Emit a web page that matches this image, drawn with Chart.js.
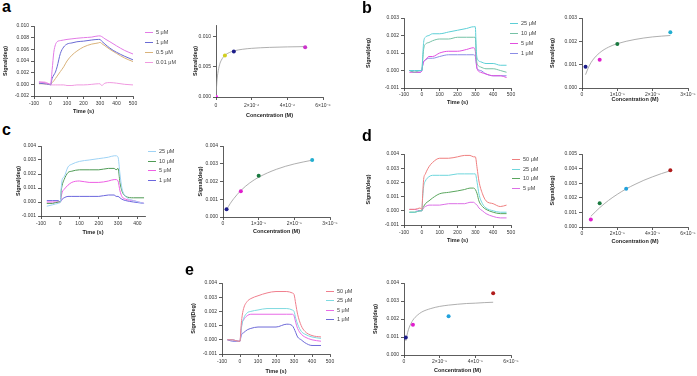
<!DOCTYPE html>
<html>
<head>
<meta charset="utf-8">
<script src="https://cdn.jsdelivr.net/npm/chart.js@4.4.1/dist/chart.umd.min.js"></script>
<style>
html, body { margin: 0; padding: 0; background: #fff; }
#fig { position: relative; width: 697px; height: 376px; overflow: hidden; font-family: Arial, "Liberation Sans", sans-serif; }
#fig canvas { position: absolute; }
.tag { position: absolute; font-weight: bold; font-size: 16px; line-height: 16px; color: #000; }
.leg { position: absolute; font-size: 5.5px; line-height: 6px; color: #444; white-space: nowrap; }
.leg i { display: inline-block; width: 8px; height: 1px; vertical-align: middle; margin-right: 3px; }
</style>
</head>
<body>
<div id="fig"></div>
<script>
// ---- panel a ----
const timeA = [-70, -40, -10, 0, 10, 20, 30, 40, 60, 80, 100, 130, 160, 200, 250, 290, 300, 310, 330, 360, 400, 450, 500];
const a5uM = [0.0004, 0.0003, 0.0001, 0.0000, 0.0025, 0.0055, 0.0068, 0.0073, 0.0075, 0.0076, 0.0077, 0.0078, 0.0079, 0.0080, 0.0081, 0.0083, 0.0083, 0.0082, 0.0078, 0.0073, 0.0066, 0.0058, 0.0052];
const a1uM = [0.0002, 0.0001, 0.0000, -0.0001, 0.0010, 0.0016, 0.0021, 0.0030, 0.0053, 0.0064, 0.0069, 0.0071, 0.0073, 0.0074, 0.0076, 0.0077, 0.0077, 0.0074, 0.0069, 0.0062, 0.0055, 0.0048, 0.0042];
const a05uM = [0.0001, 0.0001, 0.0000, 0.0000, 0.0003, 0.0006, 0.0010, 0.0014, 0.0022, 0.0030, 0.0040, 0.0050, 0.0057, 0.0064, 0.0069, 0.0071, 0.0072, 0.0070, 0.0066, 0.0060, 0.0053, 0.0045, 0.0039];
const a001uM = [0.0004, 0.0004, 0.0001, -0.0001, -0.0001, -0.0001, -0.0001, -0.0001, -0.0001, -0.0001, -0.0002, -0.0002, -0.0001, -0.0001, 0.0000, 0.0001, 0.0001, -0.0002, 0.0002, 0.0003, 0.0002, 0.0000, -0.0001];
const concA = [1e-8, 5e-7, 1e-6, 5e-6];
const sigA = [0.0000, 0.0069, 0.0076, 0.0083];
const fitConcA = [0, 5e-8, 1e-7, 2e-7, 3e-7, 5e-7, 7.5e-7, 1e-6, 1.5e-6, 2e-6, 3e-6, 4e-6, 5e-6];
const fitSigA = [0, 0.00253, 0.00391, 0.00538, 0.00614, 0.00694, 0.00741, 0.00768, 0.00796, 0.00811, 0.00827, 0.00835, 0.00840];

// ---- panel b ----
const timeB = [-70, -40, -10, 0, 5, 10, 20, 40, 60, 100, 150, 200, 250, 290, 300, 305, 310, 330, 360, 400, 440, 475];
const b25uM = [0.0000, 0.0000, 0.0000, 0.0000, 0.0008, 0.0016, 0.0019, 0.0020, 0.0021, 0.0021, 0.0022, 0.0023, 0.0024, 0.0025, 0.0025, 0.0012, 0.0007, 0.0005, 0.0004, 0.0004, 0.0003, 0.0003];
const b10uM = [0.0000, -0.0001, 0.0000, 0.0000, 0.0006, 0.0012, 0.0015, 0.0016, 0.0017, 0.0018, 0.0018, 0.0019, 0.0019, 0.0019, 0.0019, 0.0008, 0.0004, 0.0002, 0.0001, 0.0001, 0.0000, -0.0001];
const b5uM = [-0.0001, -0.0001, -0.0001, 0.0000, 0.0003, 0.0005, 0.0006, 0.0008, 0.0008, 0.0010, 0.0011, 0.0011, 0.0012, 0.0013, 0.0011, 0.0005, 0.0001, -0.0001, -0.0002, -0.0003, -0.0003, -0.0004];
const b1uM = [0.0000, -0.0001, -0.0001, 0.0000, 0.0003, 0.0005, 0.0006, 0.0007, 0.0007, 0.0008, 0.0009, 0.0009, 0.0009, 0.0009, 0.0008, 0.0004, 0.0001, 0.0000, -0.0002, -0.0003, -0.0003, -0.0003];
const concB = [1e-6, 5e-6, 1e-5, 2.5e-5];
const sigB = [0.00091, 0.00121, 0.00189, 0.00239];
const fitConcB = [1e-6, 2e-6, 3e-6, 5e-6, 7.5e-6, 1e-5, 1.5e-5, 2e-5, 2.5e-5];
const fitSigB = [0.00057, 0.00094, 0.00119, 0.00151, 0.00175, 0.00190, 0.00208, 0.00219, 0.00225];

// ---- panel c ----
const timeC = [-70, -40, -10, 0, 5, 10, 20, 40, 60, 100, 150, 200, 250, 280, 290, 300, 310, 320, 340, 380, 435];
const c25uM = [-0.0003, -0.0002, -0.0001, 0.0000, 0.0010, 0.0016, 0.0018, 0.0025, 0.0027, 0.0029, 0.0030, 0.0031, 0.0032, 0.0033, 0.0033, 0.0032, 0.0020, 0.0010, 0.0004, 0.0001, -0.0001];
const c10uM = [-0.0001, -0.0001, 0.0000, 0.0000, 0.0008, 0.0012, 0.0016, 0.0021, 0.0022, 0.0023, 0.0023, 0.0023, 0.0024, 0.0024, 0.0023, 0.0024, 0.0014, 0.0008, 0.0004, 0.0003, 0.0003];
const c5uM = [0.0000, 0.0000, 0.0000, 0.0000, 0.0004, 0.0007, 0.0009, 0.0012, 0.0014, 0.0015, 0.0014, 0.0014, 0.0015, 0.0016, 0.0016, 0.0015, 0.0008, 0.0004, 0.0002, 0.0001, -0.0001];
const c1uM = [0.0001, 0.0001, 0.0001, 0.0000, 0.0001, 0.0002, 0.0003, 0.0004, 0.0004, 0.0004, 0.0004, 0.0004, 0.0005, 0.0005, 0.0004, 0.0004, 0.0003, 0.0002, 0.0001, 0.0000, -0.0001];
const concC = [1e-6, 5e-6, 1e-5, 2.5e-5];
const sigC = [0.00043, 0.00145, 0.00232, 0.00321];
const fitConcC = [1e-6, 2e-6, 3e-6, 5e-6, 7.5e-6, 1e-5, 1.5e-5, 2e-5, 2.5e-5];
const fitSigC = [0.00041, 0.00075, 0.00103, 0.00149, 0.00192, 0.00224, 0.00269, 0.00299, 0.00320];

// ---- panel d ----
const timeD = [-70, -40, -10, 0, 5, 10, 20, 40, 60, 100, 150, 200, 240, 270, 290, 300, 310, 320, 340, 360, 400, 440, 475];
const d50uM = [0.0001, 0.0001, 0.0002, 0.0001, 0.0012, 0.0022, 0.0026, 0.0031, 0.0034, 0.0037, 0.0037, 0.0038, 0.0039, 0.0039, 0.0038, 0.0038, 0.0030, 0.0021, 0.0012, 0.0007, 0.0005, 0.0003, 0.0004];
const d25uM = [-0.0001, -0.0001, 0.0000, 0.0000, 0.0010, 0.0017, 0.0021, 0.0024, 0.0025, 0.0025, 0.0025, 0.0026, 0.0026, 0.0026, 0.0026, 0.0026, 0.0020, 0.0012, 0.0005, 0.0002, 0.0000, -0.0001, -0.0001];
const d10uM = [-0.0001, -0.0001, 0.0000, 0.0000, 0.0002, 0.0003, 0.0005, 0.0007, 0.0009, 0.0012, 0.0013, 0.0014, 0.0015, 0.0016, 0.0016, 0.0015, 0.0012, 0.0007, 0.0003, 0.0001, -0.0001, -0.0002, -0.0002];
const d5uM = [0.0001, 0.0001, 0.0000, 0.0000, 0.0001, 0.0002, 0.0003, 0.0004, 0.0004, 0.0004, 0.0005, 0.0005, 0.0005, 0.0006, 0.0006, 0.0005, 0.0004, 0.0002, 0.0000, -0.0002, -0.0004, -0.0005, -0.0005];
const concD = [5e-6, 1e-5, 2.5e-5, 5e-5];
const sigD = [0.00052, 0.00162, 0.00262, 0.00389];
const fitConcD = [5e-6, 1e-5, 1.5e-5, 2e-5, 2.5e-5, 3e-5, 3.5e-5, 4e-5, 4.5e-5, 5e-5];
const fitSigD = [0.00073, 0.00132, 0.00182, 0.00224, 0.00261, 0.00292, 0.00320, 0.00344, 0.00366, 0.00385];

// ---- panel e ----
const timeE = [-70, -40, -10, 0, 5, 10, 20, 40, 60, 100, 150, 200, 260, 290, 300, 310, 320, 340, 360, 400, 450];
const e50uM = [0.0000, 0.0000, -0.0001, -0.0001, 0.0008, 0.0015, 0.0022, 0.0027, 0.0029, 0.0031, 0.0033, 0.0034, 0.0034, 0.0033, 0.0032, 0.0025, 0.0018, 0.0010, 0.0006, 0.0003, 0.0002];
const e25uM = [0.0000, 0.0000, -0.0001, -0.0001, 0.0005, 0.0010, 0.0015, 0.0019, 0.0020, 0.0021, 0.0022, 0.0022, 0.0022, 0.0021, 0.0020, 0.0015, 0.0011, 0.0006, 0.0004, 0.0002, 0.0001];
const e5uM = [0.0000, 0.0000, -0.0001, -0.0001, 0.0005, 0.0011, 0.0014, 0.0017, 0.0018, 0.0018, 0.0018, 0.0018, 0.0018, 0.0018, 0.0017, 0.0012, 0.0008, 0.0004, 0.0002, 0.0000, -0.0001];
const e1uM = [0.0000, -0.0001, -0.0001, -0.0001, 0.0002, 0.0004, 0.0005, 0.0007, 0.0008, 0.0009, 0.0009, 0.0009, 0.0011, 0.0010, 0.0008, 0.0005, 0.0002, 0.0000, -0.0002, -0.0004, -0.0004];
const concE = [1e-6, 5e-6, 2.5e-5, 5e-5];
const sigE = [0.00097, 0.00168, 0.00215, 0.00343];
const fitConcE = [1e-6, 2e-6, 3e-6, 5e-6, 7.5e-6, 1e-5, 1.5e-5, 2e-5, 2.5e-5, 3e-5, 3.5e-5, 4e-5, 4.5e-5, 5e-5];
const fitSigE = [0.00078, 0.00124, 0.00155, 0.00194, 0.00221, 0.00239, 0.00258, 0.00270, 0.00277, 0.00282, 0.00286, 0.00288, 0.00291, 0.00293];

// ---- tick labels ----
const timeTicks = [-100, 0, 100, 200, 300, 400, 500];
const timeTicksC = [-100, 0, 100, 200, 300, 400];
const yTicksA = [-0.002, 0, 0.002, 0.004, 0.006, 0.008, 0.010];
const yLabelsA = ["-0.002", "0.000", "0.002", "0.004", "0.006", "0.008", "0.010"];
const yTicksA2 = [0, 0.005, 0.010];
const yLabelsA2 = ["0.000", "0.005", "0.010"];
const yTicks3 = [-0.001, 0, 0.001, 0.002, 0.003];
const yLabels3 = ["-0.001", "0.000", "0.001", "0.002", "0.003"];
const yTicks3R = [0, 0.001, 0.002, 0.003];
const yLabels3R = ["0.000", "0.001", "0.002", "0.003"];
const yTicks4 = [-0.001, 0, 0.001, 0.002, 0.003, 0.004];
const yLabels4 = ["-0.001", "0.000", "0.001", "0.002", "0.003", "0.004"];
const yTicks4R = [0, 0.001, 0.002, 0.003, 0.004];
const yLabels4R = ["0.000", "0.001", "0.002", "0.003", "0.004"];
const yTicks5R = [0, 0.001, 0.002, 0.003, 0.004, 0.005];
const yLabels5R = ["0.000", "0.001", "0.002", "0.003", "0.004", "0.005"];
const xTicksE6 = [0, 2e-6, 4e-6, 6e-6];
const xLabelsE6 = ["0", "2×10⁻⁶", "4×10⁻⁶", "6×10⁻⁶"];
const xTicks3E5 = [0, 1e-5, 2e-5, 3e-5];
const xLabels3E5 = ["0", "1×10⁻⁵", "2×10⁻⁵", "3×10⁻⁵"];
const xTicks6E5 = [0, 2e-5, 4e-5, 6e-5];
const xLabels6E5 = ["0", "2×10⁻⁵", "4×10⁻⁵", "6×10⁻⁵"];

Chart.defaults.font.family = 'Arial, "Liberation Sans", sans-serif';
Chart.defaults.color = '#333';
Chart.defaults.animation = false;

const fig = document.getElementById('fig');

function axis(pos, min, max, ticks, labels, title, size, pad) {
    return {
        type: 'linear',
        position: pos,
        min: min,
        max: max,
        afterBuildTicks: s => { s.ticks = ticks.map(v => ({ value: v })); },
        afterFit: s => {
            if (pos === 'left') s.width = size; else s.height = size;
            s.paddingLeft = 0; s.paddingRight = 0; s.paddingTop = 0; s.paddingBottom = 0;
        },
        ticks: {
            autoSkip: false, maxRotation: 0, minRotation: 0,
            padding: pad,
            font: { size: 5 },
            color: '#333',
            callback: (v, i) => labels[i]
        },
        grid: { drawOnChartArea: false, drawTicks: true, tickLength: 3, color: '#333', lineWidth: 0.8 },
        border: { display: true, color: '#333', width: 0.8 },
        title: { display: true, text: title, font: { size: 5.5, weight: 'bold' }, color: '#222', padding: 0 }
    };
}

// box: plot area in page pixels + axis sizes
function makeChart(box, datasets, xAx, yAx) {
    const padTop = 6, padRight = 14;
    const c = document.createElement('canvas');
    const w = box.yW + (box.R - box.L) + padRight;
    const h = padTop + (box.B - box.T) + box.xH;
    c.width = w; c.height = h;
    c.style.width = w + 'px'; c.style.height = h + 'px';
    c.style.left = (box.L - box.yW) + 'px';
    c.style.top = (box.T - padTop) + 'px';
    fig.appendChild(c);
    new Chart(c, {
        type: 'line',
        data: { datasets: datasets },
        options: {
            responsive: false,
            layout: { autoPadding: false, padding: { top: padTop, right: padRight, left: 0, bottom: 0 } },
            plugins: { legend: { display: false }, tooltip: { enabled: false } },
            scales: { x: xAx, y: yAx }
        }
    });
}

function trace(times, vals, color) {
    return {
        data: times.map((t, i) => ({ x: t, y: vals[i] })),
        borderColor: color, borderWidth: 1, pointRadius: 0,
        cubicInterpolationMode: 'monotone'
    };
}

function points(conc, sig, colors) {
    return {
        data: conc.map((c, i) => ({ x: c, y: sig[i] })),
        showLine: false, pointRadius: 2, pointBorderWidth: 0,
        pointBackgroundColor: colors, pointBorderColor: colors
    };
}

function fit(conc, sig) {
    return {
        data: conc.map((c, i) => ({ x: c, y: sig[i] })),
        borderColor: '#9a9a9a', borderWidth: 0.8, pointRadius: 0,
        cubicInterpolationMode: 'monotone'
    };
}

function legend(x, y0, dy, names, colors) {
    names.forEach((n, i) => {
        const d = document.createElement('div');
        d.className = 'leg';
        d.style.left = x + 'px';
        d.style.top = (y0 + i * dy - 3) + 'px';
        d.innerHTML = '<i style="background:' + colors[i] + '"></i>' + n;
        fig.appendChild(d);
    });
}

function tag(t, x, y) {
    const d = document.createElement('div');
    d.className = 'tag';
    d.style.left = x + 'px';
    d.style.top = y + 'px';
    d.textContent = t;
    fig.appendChild(d);
}

// panel a
const colA = ['#e37be6', '#6a6ad4', '#d9b27a', '#f09ae0'];
makeChart({ L: 34, R: 133, T: 26, B: 96, yW: 32, xH: 19 },
    [trace(timeA, a5uM, colA[0]), trace(timeA, a1uM, colA[1]), trace(timeA, a05uM, colA[2]), trace(timeA, a001uM, colA[3])],
    axis('bottom', -100, 500, timeTicks, timeTicks.map(String), 'Time (s)', 19, 2),
    axis('left', -0.002, 0.010, yTicksA, yLabelsA, 'Signal(deg)', 32, 2));
legend(145, 32, 10, ['5 μM', '1 μM', '0.5 μM', '0.01 μM'], colA);
makeChart({ L: 216, R: 323, T: 25, B: 97, yW: 24, xH: 22 },
    [points(concA, sigA, ['#ff2bff', '#d2cf1e', '#1c1c8a', '#cc33cc']), fit(fitConcA, fitSigA)],
    axis('bottom', 0, 6e-6, xTicksE6, xLabelsE6, 'Concentration (M)', 22, 3),
    axis('left', 0, 0.012, yTicksA2, yLabelsA2, 'Signal(deg)', 24, 2));

// panel b
const colB = ['#5ccfd6', '#76c2a6', '#e24ee0', '#8c8ce6'];
makeChart({ L: 404, R: 511, T: 18, B: 88, yW: 39, xH: 18 },
    [trace(timeB, b25uM, colB[0]), trace(timeB, b10uM, colB[1]), trace(timeB, b5uM, colB[2]), trace(timeB, b1uM, colB[3])],
    axis('bottom', -100, 500, timeTicks, timeTicks.map(String), 'Time (s)', 18, 1),
    axis('left', -0.001, 0.003, yTicks3, yLabels3, 'Signal(deg)', 39, 2));
legend(510, 23, 10, ['25 μM', '10 μM', '5 μM', '1 μM'], colB);
makeChart({ L: 582, R: 688, T: 18, B: 88, yW: 33, xH: 15 },
    [points(concB, sigB, ['#1c1c8a', '#e01ecc', '#1a7a40', '#22aed0']), fit(fitConcB, fitSigB)],
    axis('bottom', 0, 3e-5, xTicks3E5, xLabels3E5, 'Concentration (M)', 15, 1),
    axis('left', 0, 0.003, yTicks3R, yLabels3R, 'Signal(deg)', 33, 2));

// panel c
const colC = ['#9fd3f5', '#4f9b55', '#ee5fe4', '#6b66dd'];
makeChart({ L: 41, R: 145, T: 146, B: 216, yW: 26, xH: 20 },
    [trace(timeC, c25uM, colC[0]), trace(timeC, c10uM, colC[1]), trace(timeC, c5uM, colC[2]), trace(timeC, c1uM, colC[3])],
    axis('bottom', -100, 440, timeTicksC, timeTicksC.map(String), 'Time (s)', 20, 2),
    axis('left', -0.001, 0.004, yTicks4, yLabels4, 'Signal(deg)', 26, 2));
legend(148, 151, 9.5, ['25 μM', '10 μM', '5 μM', '1 μM'], colC);
makeChart({ L: 223, R: 330, T: 146, B: 217, yW: 26, xH: 18 },
    [points(concC, sigC, ['#1c1c8a', '#e01ecc', '#1a7a40', '#22aed0']), fit(fitConcC, fitSigC)],
    axis('bottom', 0, 3e-5, xTicks3E5, xLabels3E5, 'Concentration (M)', 18, 1),
    axis('left', 0, 0.004, yTicks4R, yLabels4R, 'Signal(deg)', 26, 2));

// panel d
const colD = ['#ef7f7f', '#6fd6dc', '#5aa65e', '#dc6fe6'];
makeChart({ L: 404, R: 511, T: 154, B: 225, yW: 39, xH: 19 },
    [trace(timeD, d50uM, colD[0]), trace(timeD, d25uM, colD[1]), trace(timeD, d10uM, colD[2]), trace(timeD, d5uM, colD[3])],
    axis('bottom', -100, 500, timeTicks, timeTicks.map(String), 'Time (s)', 19, 2),
    axis('left', -0.001, 0.004, yTicks4, yLabels4, 'Signal(deg)', 39, 2));
legend(512, 159.3, 9.5, ['50 μM', '25 μM', '10 μM', '5 μM'], colD);
makeChart({ L: 582, R: 688, T: 154, B: 227, yW: 33, xH: 18 },
    [points(concD, sigD, ['#e01ecc', '#1a7a40', '#22a2dc', '#b01c1c']), fit(fitConcD, fitSigD)],
    axis('bottom', 0, 6e-5, xTicks6E5, xLabels6E5, 'Concentration (M)', 18, 1),
    axis('left', 0, 0.005, yTicks5R, yLabels5R, 'Signal(deg)', 33, 2));

// panel e
const colE = ['#f07f8e', '#7fdae0', '#e86be6', '#6e6ad8'];
makeChart({ L: 222, R: 330, T: 283, B: 354, yW: 32, xH: 21 },
    [trace(timeE, e50uM, colE[0]), trace(timeE, e25uM, colE[1]), trace(timeE, e5uM, colE[2]), trace(timeE, e1uM, colE[3])],
    axis('bottom', -100, 500, timeTicks, timeTicks.map(String), 'Time (s)', 21, 2),
    axis('left', -0.001, 0.004, yTicks4, yLabels4, 'Signal(Deg)', 32, 2));
legend(326, 290.7, 9.5, ['50 μM', '25 μM', '5 μM', '1 μM'], colE);
makeChart({ L: 404, R: 511, T: 283, B: 355, yW: 32, xH: 19 },
    [points(concE, sigE, ['#1c1c8a', '#e01ecc', '#22a2dc', '#b01c1c']), fit(fitConcE, fitSigE)],
    axis('bottom', 0, 6e-5, xTicks6E5, xLabels6E5, 'Concentration (M)', 19, 1),
    axis('left', 0, 0.004, yTicks4R, yLabels4R, 'Signal(deg)', 32, 2));

tag('a', 2, -1);
tag('b', 362, 0);
tag('c', 2, 122);
tag('d', 362, 128);
tag('e', 185, 261.5);
</script>
</body>
</html>
